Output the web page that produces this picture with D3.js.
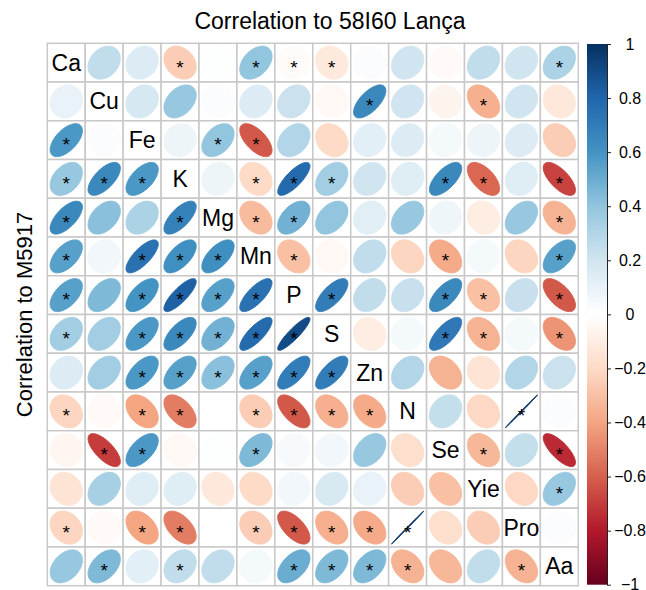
<!DOCTYPE html>
<html>
<head>
<meta charset="utf-8">
<script src="https://cdn.jsdelivr.net/npm/d3@7"></script>
<style>
  body { margin: 0; background: #fff; }
  svg { display: block; font-family: "Liberation Sans", Arial, sans-serif; }
</style>
</head>
<body>
<svg id="chart" width="646" height="590"></svg>
<script>
// variables, in the order of the matrix
const vars = ["Ca", "Cu", "Fe", "K", "Mg", "Mn", "P", "S", "Zn", "N", "Se", "Yie", "Pro", "Aa"];

// upper triangle = 58I60 Lança, lower triangle = M5917
const corr = [
  [null, 0.25, 0.15, -0.25, 0.01, 0.40, -0.02, -0.12, 0.02, 0.20, -0.03, 0.25, 0.20, 0.32],
  [0.10, null, 0.18, 0.38, 0.02, 0.15, 0.22, -0.04, 0.65, 0.20, -0.06, -0.36, 0.20, -0.13],
  [0.58, 0.02, null, 0.08, 0.40, -0.62, 0.30, -0.20, 0.12, 0.15, 0.05, 0.08, 0.15, -0.25],
  [0.38, 0.65, 0.58, null, 0.08, -0.20, 0.78, 0.35, 0.20, 0.14, 0.65, -0.58, 0.14, -0.68],
  [0.65, 0.42, 0.32, 0.68, null, -0.32, 0.48, 0.40, 0.13, 0.38, 0.07, -0.10, 0.38, -0.35],
  [0.55, 0.06, 0.75, 0.62, 0.62, null, -0.30, -0.04, 0.25, -0.22, -0.38, 0.05, -0.22, 0.55],
  [0.55, 0.45, 0.60, 0.82, 0.55, 0.75, null, 0.70, 0.25, 0.23, 0.65, -0.30, 0.23, -0.62],
  [0.35, 0.35, 0.58, 0.65, 0.48, 0.78, 0.90, null, -0.10, 0.05, 0.72, -0.35, 0.05, -0.45],
  [0.15, 0.35, 0.58, 0.55, 0.42, 0.55, 0.70, 0.70, null, 0.30, -0.35, -0.15, 0.30, 0.22],
  [-0.22, -0.03, -0.40, -0.52, 0.00, -0.25, -0.62, -0.36, -0.38, null, 0.24, -0.21, 0.999, 0.02],
  [-0.05, -0.70, 0.58, -0.04, 0.01, 0.45, 0.04, 0.06, 0.38, -0.18, null, -0.33, 0.24, -0.75],
  [-0.15, 0.33, 0.14, 0.14, -0.13, -0.20, 0.06, 0.17, 0.10, -0.25, -0.30, null, -0.21, 0.38],
  [-0.22, -0.03, -0.40, -0.52, 0.00, -0.25, -0.62, -0.36, -0.38, 0.999, -0.18, -0.25, null, 0.02],
  [0.38, 0.45, 0.12, 0.25, 0.25, 0.05, 0.50, 0.45, 0.45, -0.35, -0.33, 0.25, -0.35, null]
];

// 1 = significant (star)
const sig = [
  [0, 0, 0, 1, 0, 1, 1, 1, 0, 0, 0, 0, 0, 1],
  [0, 0, 0, 0, 0, 0, 0, 0, 1, 0, 0, 1, 0, 0],
  [1, 0, 0, 0, 1, 1, 0, 0, 0, 0, 0, 0, 0, 0],
  [1, 1, 1, 0, 0, 1, 1, 1, 0, 0, 1, 1, 0, 1],
  [1, 0, 0, 1, 0, 1, 1, 0, 0, 0, 0, 0, 0, 1],
  [1, 0, 1, 1, 1, 0, 1, 0, 0, 0, 1, 0, 0, 1],
  [1, 0, 1, 1, 1, 1, 0, 1, 0, 0, 1, 1, 0, 1],
  [1, 0, 1, 1, 1, 1, 1, 0, 0, 0, 1, 1, 0, 1],
  [0, 0, 1, 1, 1, 1, 1, 1, 0, 0, 0, 0, 0, 0],
  [1, 0, 1, 1, 0, 1, 1, 1, 1, 0, 0, 0, 1, 0],
  [0, 1, 1, 0, 0, 1, 0, 0, 0, 0, 0, 1, 0, 1],
  [0, 0, 0, 0, 0, 0, 0, 0, 0, 0, 0, 0, 0, 1],
  [1, 0, 1, 1, 0, 1, 1, 1, 1, 1, 0, 0, 0, 0],
  [0, 1, 0, 1, 0, 0, 1, 1, 1, 1, 0, 0, 1, 0]
];

const barTicks = [1, 0.8, 0.6, 0.4, 0.2, 0, -0.2, -0.4, -0.6, -0.8, -1];
const mainTitle = "Correlation to 58I60 Lança";
const sideTitle = "Correlation to M5917";

const palette = ["#67001F", "#B2182B", "#D6604D", "#F4A582", "#FDDBC7", "#FFFFFF",
                 "#D1E5F0", "#92C5DE", "#4393C3", "#2166AC", "#053061"];

const svg = d3.select("#chart");
const grid = { left: 47.3, top: 43.3, right: 578.3, bottom: 585.7 };

const x = d3.scaleBand().domain(vars).range([grid.left, grid.right]);
const y = d3.scaleBand().domain(vars).range([grid.top, grid.bottom]);
const color = d3.scaleLinear()
  .domain(d3.range(11).map(i => -1 + i * 0.2))
  .range(palette)
  .interpolate(d3.interpolateRgb);

// flatten matrix into cells
const cells = [];
corr.forEach((row, i) => row.forEach((r, j) => {
  cells.push({ row: vars[i], col: vars[j], r: r, sig: sig[i][j], diag: i === j });
}));

// cell background + grid
svg.append("g").selectAll("rect")
  .data(cells)
  .join("rect")
  .attr("x", d => x(d.col))
  .attr("y", d => y(d.row))
  .attr("width", x.bandwidth())
  .attr("height", y.bandwidth())
  .attr("fill", "#fff")
  .attr("stroke", "#c8c8c8")
  .attr("stroke-width", 1.5);

// ellipse shape as in corrplot
const ellLine = d3.line().curve(d3.curveLinearClosed);
function ellipse(d) {
  const a = Math.acos(d.r);
  const cx = x(d.col) + x.bandwidth() / 2;
  const cy = y(d.row) + y.bandwidth() / 2;
  const w = x.bandwidth() * 0.425, h = y.bandwidth() * 0.425;
  const pts = d3.range(99).map(n => {
    const k = n / 98 * 2 * Math.PI;
    return [cx + w * Math.cos(k + a / 2), cy - h * Math.cos(k - a / 2)];
  });
  return ellLine(pts);
}

const offDiag = cells.filter(d => !d.diag);

svg.append("g").selectAll("path")
  .data(offDiag)
  .join("path")
  .attr("d", ellipse)
  .attr("fill", d => color(d.r))
  .attr("stroke", d => color(d.r))
  .attr("stroke-width", 1);

// significance stars
svg.append("g").selectAll("text")
  .data(offDiag.filter(d => d.sig))
  .join("text")
  .attr("x", d => x(d.col) + x.bandwidth() / 2)
  .attr("y", d => y(d.row) + y.bandwidth() / 2 + 11)
  .attr("text-anchor", "middle")
  .attr("font-size", 19)
  .attr("fill", "#000")
  .text("*");

// diagonal labels
svg.append("g").selectAll("text")
  .data(cells.filter(d => d.diag))
  .join("text")
  .attr("x", d => x(d.col) + x.bandwidth() / 2)
  .attr("y", d => y(d.row) + y.bandwidth() / 2 + 8)
  .attr("text-anchor", "middle")
  .attr("font-size", 23)
  .attr("fill", "#000")
  .text(d => d.row);

// colour bar
const bar = { x: 587, w: 20 };
const barScale = d3.scaleLinear().domain([-1, 1]).range([grid.bottom - 1, grid.top + 0.7]);

const grad = svg.append("defs").append("linearGradient")
  .attr("id", "barGrad")
  .attr("x1", 0).attr("y1", 1).attr("x2", 0).attr("y2", 0);
grad.selectAll("stop")
  .data(d3.range(0, 1.0001, 0.05))
  .join("stop")
  .attr("offset", d => d)
  .attr("stop-color", d => color(-1 + 2 * d));

svg.append("rect")
  .attr("x", bar.x)
  .attr("y", barScale(1))
  .attr("width", bar.w)
  .attr("height", barScale(-1) - barScale(1))
  .attr("fill", "url(#barGrad)");

const barAxis = svg.append("g")
  .attr("transform", `translate(${bar.x + bar.w},0)`)
  .call(d3.axisRight(barScale).tickValues(barTicks).tickSize(4).tickSizeOuter(0)
    .tickFormat(d3.format("~g")));
barAxis.select(".domain").attr("stroke", "#222");
barAxis.selectAll(".tick line").attr("stroke", "#222");
barAxis.selectAll(".tick text")
  .attr("x", 23)
  .attr("text-anchor", "middle")
  .attr("font-size", 16)
  .attr("font-family", "Liberation Sans, Arial, sans-serif")
  .attr("fill", "#000");

// titles
svg.append("text")
  .attr("x", 330)
  .attr("y", 29)
  .attr("text-anchor", "middle")
  .attr("font-size", 23)
  .text(mainTitle);

svg.append("text")
  .attr("transform", `translate(32,${(grid.top + grid.bottom) / 2}) rotate(-90)`)
  .attr("text-anchor", "middle")
  .attr("font-size", 22)
  .text(sideTitle);
</script>
</body>
</html>
